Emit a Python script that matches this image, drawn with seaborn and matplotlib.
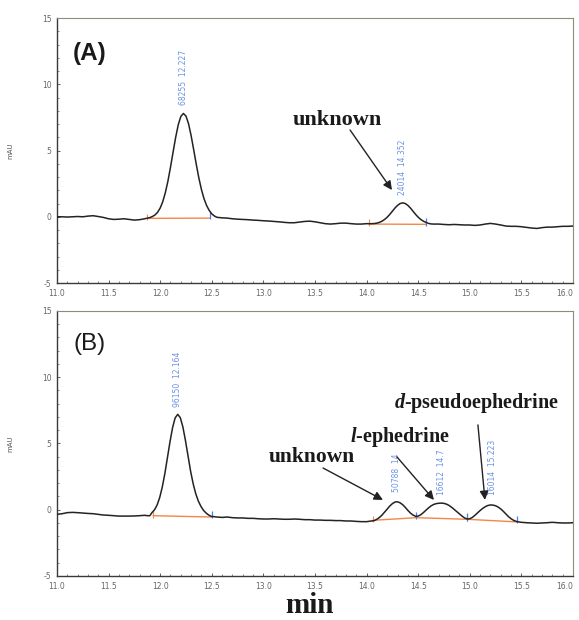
import numpy as np
import pandas as pd
import matplotlib
matplotlib.use("Agg")
import matplotlib.pyplot as plt
import seaborn as sns

# ---- chromatogram traces (min, mAU) ----
time_a = [11.00, 11.05, 11.10, 11.15, 11.20, 11.25, 11.30, 11.35, 11.40, 11.45,
          11.50, 11.55, 11.60, 11.65, 11.70, 11.75, 11.80, 11.85,
          11.900, 11.925, 11.950, 11.975, 12.000, 12.025, 12.050, 12.075, 12.100,
          12.125, 12.150, 12.175, 12.200, 12.225, 12.250, 12.275, 12.300, 12.325,
          12.350, 12.375, 12.400, 12.425, 12.450, 12.475, 12.500, 12.525, 12.550,
          12.60, 12.65, 12.70, 12.75, 12.80, 12.85, 12.90, 12.95, 13.00, 13.05,
          13.10, 13.15, 13.20, 13.25, 13.30, 13.35, 13.40, 13.45, 13.50, 13.55,
          13.60, 13.65, 13.70, 13.75, 13.80, 13.85, 13.90, 13.95, 14.00,
          14.050, 14.075, 14.100, 14.125, 14.150, 14.175, 14.200, 14.225, 14.250,
          14.275, 14.300, 14.325, 14.350, 14.375, 14.400, 14.425, 14.450, 14.475,
          14.500, 14.525, 14.550, 14.575, 14.600, 14.625,
          14.65, 14.70, 14.75, 14.80, 14.85, 14.90, 14.95, 15.00, 15.05, 15.10,
          15.15, 15.20, 15.25, 15.30, 15.35, 15.40, 15.45, 15.50, 15.55, 15.60,
          15.65, 15.70, 15.75, 15.80, 15.85, 15.90, 15.95, 16.00]
signal_a = [0.00, 0.00, -0.02, 0.00, 0.02, 0.00, 0.05, 0.08, 0.02, -0.05,
            -0.15, -0.20, -0.18, -0.15, -0.20, -0.25, -0.22, -0.15,
            -0.06, 0.02, 0.14, 0.34, 0.66, 1.14, 1.82, 2.69, 3.74,
            4.88, 5.99, 6.94, 7.57, 7.80, 7.60, 7.02, 6.12, 5.05,
            3.95, 2.92, 2.05, 1.36, 0.85, 0.48, 0.22, 0.06, -0.04,
            -0.08, -0.10, -0.15, -0.18, -0.20, -0.22, -0.25, -0.27, -0.30, -0.32,
            -0.35, -0.38, -0.42, -0.45, -0.45, -0.40, -0.35, -0.33, -0.38, -0.45,
            -0.52, -0.55, -0.52, -0.48, -0.48, -0.52, -0.55, -0.55, -0.52,
            -0.52, -0.51, -0.48, -0.42, -0.33, -0.20, -0.03, 0.18, 0.42,
            0.66, 0.86, 1.00, 1.05, 1.00, 0.86, 0.66, 0.42, 0.18,
            -0.03, -0.20, -0.33, -0.42, -0.50, -0.54,
            -0.55, -0.55, -0.58, -0.60, -0.58, -0.60, -0.62, -0.62, -0.65, -0.62,
            -0.55, -0.50, -0.55, -0.62, -0.70, -0.72, -0.72, -0.75, -0.80, -0.85,
            -0.88, -0.82, -0.78, -0.78, -0.75, -0.72, -0.72, -0.70]

time_b = [11.00, 11.05, 11.10, 11.15, 11.20, 11.25, 11.30, 11.35, 11.40, 11.45,
          11.50, 11.55, 11.60, 11.65, 11.70, 11.75, 11.80, 11.85, 11.875, 11.90,
          11.920, 11.945, 11.970, 11.995, 12.020, 12.045, 12.070, 12.095, 12.120,
          12.145, 12.170, 12.195, 12.220, 12.245, 12.270, 12.295, 12.320, 12.345,
          12.370, 12.395, 12.420, 12.445, 12.470, 12.495,
          12.55, 12.60, 12.65, 12.70, 12.75, 12.80, 12.85, 12.90, 12.95, 13.00,
          13.05, 13.10, 13.15, 13.20, 13.25, 13.30, 13.35, 13.40, 13.45, 13.50,
          13.55, 13.60, 13.65, 13.70, 13.75, 13.80, 13.85, 13.90, 13.95, 14.00,
          14.05, 14.075, 14.100, 14.125, 14.150, 14.175, 14.200, 14.225, 14.250,
          14.275, 14.300, 14.325, 14.350, 14.375, 14.400, 14.425, 14.450, 14.475,
          14.500, 14.525, 14.550, 14.575, 14.600, 14.625, 14.650, 14.675, 14.700,
          14.725, 14.750, 14.775, 14.800, 14.825, 14.850, 14.875, 14.900, 14.925,
          14.950, 14.975, 15.000, 15.025, 15.050, 15.075, 15.100, 15.125, 15.150,
          15.175, 15.200, 15.225, 15.250, 15.275, 15.300, 15.325, 15.350, 15.375,
          15.400, 15.425, 15.450, 15.475,
          15.50, 15.55, 15.60, 15.65, 15.70, 15.75, 15.80, 15.85, 15.90, 15.95, 16.00]
signal_b = [-0.35, -0.30, -0.22, -0.20, -0.22, -0.25, -0.28, -0.30, -0.35, -0.40,
            -0.42, -0.45, -0.48, -0.48, -0.48, -0.47, -0.45, -0.42, -0.45, -0.45,
            -0.22, -0.01, 0.35, 0.91, 1.70, 2.71, 3.90, 5.12, 6.19,
            6.93, 7.20, 6.95, 6.25, 5.22, 4.05, 2.90, 1.95, 1.20,
            0.65, 0.25, -0.05, -0.25, -0.40, -0.50,
            -0.55, -0.58, -0.55, -0.60, -0.62, -0.62, -0.65, -0.65, -0.68, -0.70,
            -0.70, -0.68, -0.70, -0.72, -0.72, -0.70, -0.72, -0.75, -0.75, -0.78,
            -0.78, -0.80, -0.80, -0.82, -0.82, -0.85, -0.85, -0.88, -0.90, -0.90,
            -0.85, -0.82, -0.72, -0.58, -0.40, -0.18, 0.05, 0.28, 0.46,
            0.58, 0.60, 0.52, 0.38, 0.18, -0.05, -0.25, -0.40, -0.50,
            -0.48, -0.38, -0.22, -0.04, 0.14, 0.29, 0.40, 0.46, 0.49,
            0.50, 0.48, 0.42, 0.32, 0.18, 0.02, -0.15, -0.32, -0.48,
            -0.62, -0.70, -0.68, -0.58, -0.42, -0.24, -0.06, 0.10, 0.23,
            0.32, 0.36, 0.35, 0.30, 0.20, 0.06, -0.12, -0.32, -0.52,
            -0.68, -0.80, -0.88, -0.92,
            -0.95, -0.98, -1.00, -1.02, -1.00, -0.98, -0.95, -0.98, -1.00, -1.00, -0.98]

# ---- integration baselines and their start/end markers ----
base_a_t = [[11.87, 12.48], [14.02, 14.58]]
base_a_y = [[-0.12, -0.10], [-0.55, -0.57]]
base_b_t = [[11.93, 12.50], [14.06, 14.48, 14.97, 15.46]]
base_b_y = [[-0.45, -0.55], [-0.80, -0.60, -0.72, -0.92]]
mark_a_t = [12.48, 14.58]
mark_a_y = [-0.10, -0.57]
mark_b_t = [12.50, 14.48, 14.97, 15.46]
mark_b_y = [-0.55, -0.60, -0.72, -0.92]
start_a_t = [11.87, 14.02]
start_a_y = [-0.12, -0.55]
start_b_t = [11.93, 14.06, 14.97]
start_b_y = [-0.45, -0.80, -0.72]

# ---- peak annotations (area, retention time) ----
peak_a_text = ["68255  12.227", "24014  14.352"]
peak_a_t = [12.227, 14.352]
peak_a_y = [8.43, 1.64]
peak_b_text = ["96150  12.164", "50788  14", "16612  14.7", "16014  15.223"]
peak_b_t = [12.164, 14.29, 14.73, 15.223]
peak_b_y = [7.75, 1.34, 1.11, 1.11]

x_ticks = [11.0, 11.5, 12.0, 12.5, 13.0, 13.5, 14.0, 14.5, 15.0, 15.5, 16.0]
y_ticks = [-5, 0, 5, 10, 15]

sns.set_style("white")
plt.rcParams["font.family"] = ["DejaVu Sans"]
plt.rcParams["mathtext.fontset"] = "custom"
plt.rcParams["mathtext.it"] = "Liberation Serif:italic:bold"
plt.rcParams["mathtext.rm"] = "Liberation Serif:bold"

TRACE = "#232323"
ORANGE = "#f0884a"
BLUE = "#4f7fe0"

fig = plt.figure(figsize=(5.79, 6.2), dpi=100)
ax_a = fig.add_axes([0.0984, 0.5435, 0.8912, 0.4274])
ax_b = fig.add_axes([0.0984, 0.0710, 0.8912, 0.4274])

df_a = pd.DataFrame({"min": time_a, "mAU": signal_a})
df_b = pd.DataFrame({"min": time_b, "mAU": signal_b})

for ax, df, bt, by, mt, my, st, sy, ptxt, pt, py in [
        (ax_a, df_a, base_a_t, base_a_y, mark_a_t, mark_a_y, start_a_t, start_a_y,
         peak_a_text, peak_a_t, peak_a_y),
        (ax_b, df_b, base_b_t, base_b_y, mark_b_t, mark_b_y, start_b_t, start_b_y,
         peak_b_text, peak_b_t, peak_b_y)]:
    for seg_t, seg_y in zip(bt, by):
        ax.plot(seg_t, seg_y, color=ORANGE, lw=1.0, zorder=2)
    ax.vlines(st, [v - 0.15 for v in sy], [v + 0.35 for v in sy],
              color=ORANGE, lw=0.8, zorder=2)
    ax.vlines(mt, [v - 0.1 for v in my], [v + 0.45 for v in my],
              color=BLUE, lw=0.9, zorder=2)
    sns.lineplot(data=df, x="min", y="mAU", ax=ax, color=TRACE, lw=1.1,
                 estimator=None, sort=False, zorder=3)
    for txt, t, y in zip(ptxt, pt, py):
        ax.text(t, y, txt, rotation=90, ha="center", va="bottom",
                color=BLUE, fontsize=5.5, alpha=0.85)

    ax.set_xlim(11.0, 16.0)
    ax.set_ylim(-5, 15)
    ax.set_xticks(x_ticks)
    ax.set_xticklabels([f"{v:.1f}" for v in x_ticks])
    # keep the last tick label inside the figure edge
    ax.get_xticklabels()[-1].set_horizontalalignment("right")
    ax.set_yticks(y_ticks)
    ax.set_yticklabels([str(v) for v in y_ticks])
    ax.set_xticks(np.arange(11.0, 16.01, 0.1), minor=True)
    ax.set_yticks(np.arange(-5, 15.1, 1), minor=True)
    ax.tick_params(axis="both", which="major", direction="in", length=2.5,
                   width=0.6, labelsize=5.5, labelcolor="#666666", pad=4,
                   bottom=True, left=True, color="#444444")
    ax.tick_params(axis="both", which="minor", direction="in", length=1.5,
                   width=0.5, bottom=True, left=True, color="#555555")
    ax.set_xlabel("")
    ax.set_ylabel("mAU", fontsize=5, color="#555555")
    ax.yaxis.set_label_coords(-0.085, 0.5)
    for side in ["left", "bottom"]:
        ax.spines[side].set_color("#3a3a3a")
        ax.spines[side].set_linewidth(1.0)
    for side in ["top", "right"]:
        ax.spines[side].set_color("#8c8c78")
        ax.spines[side].set_linewidth(0.8)
    ax.grid(False)

serif = dict(family="Liberation Serif", weight="bold", color="#1a1a1a")
arrow = dict(arrowstyle="-|>", mutation_scale=13, lw=1.0, color="#222222",
             shrinkA=0, shrinkB=0)

# panel A annotations
ax_a.text(13.713, 6.92, "unknown", ha="center", va="baseline", fontsize=16, **serif)
ax_a.annotate("", xy=(14.246, 2.02), xytext=(13.84, 6.55), arrowprops=arrow)

# panel B annotations
ax_b.text(13.466, 3.60, "unknown", ha="center", va="baseline", fontsize=15.5, **serif)
ax_b.annotate("", xy=(14.159, 0.74), xytext=(13.578, 3.15), arrowprops=arrow)
ax_b.text(14.324, 5.11, r"$\mathit{l}$-ephedrine", ha="center", va="baseline",
          fontsize=14.5, **serif)
ax_b.annotate("", xy=(14.653, 0.74), xytext=(14.295, 3.98), arrowprops=arrow)
ax_b.text(15.06, 7.68, r"$\mathit{d}$-pseudoephedrine", ha="center", va="baseline",
          fontsize=14.5, **serif)
ax_b.annotate("", xy=(15.147, 0.74), xytext=(15.079, 6.4), arrowprops=arrow)

fig.text(0.1554, 0.9145, "(A)", ha="center", va="center", fontsize=17.5,
         family="Liberation Sans", weight="bold", color="#1a1a1a")
fig.text(0.1554, 0.4452, "(B)", ha="center", va="center", fontsize=17.5,
         family="Liberation Sans", color="#1a1a1a")
fig.text(0.535, 0.012, "min", ha="center", va="baseline", fontsize=21, **serif)

fig.savefig("out.png", dpi=100)
